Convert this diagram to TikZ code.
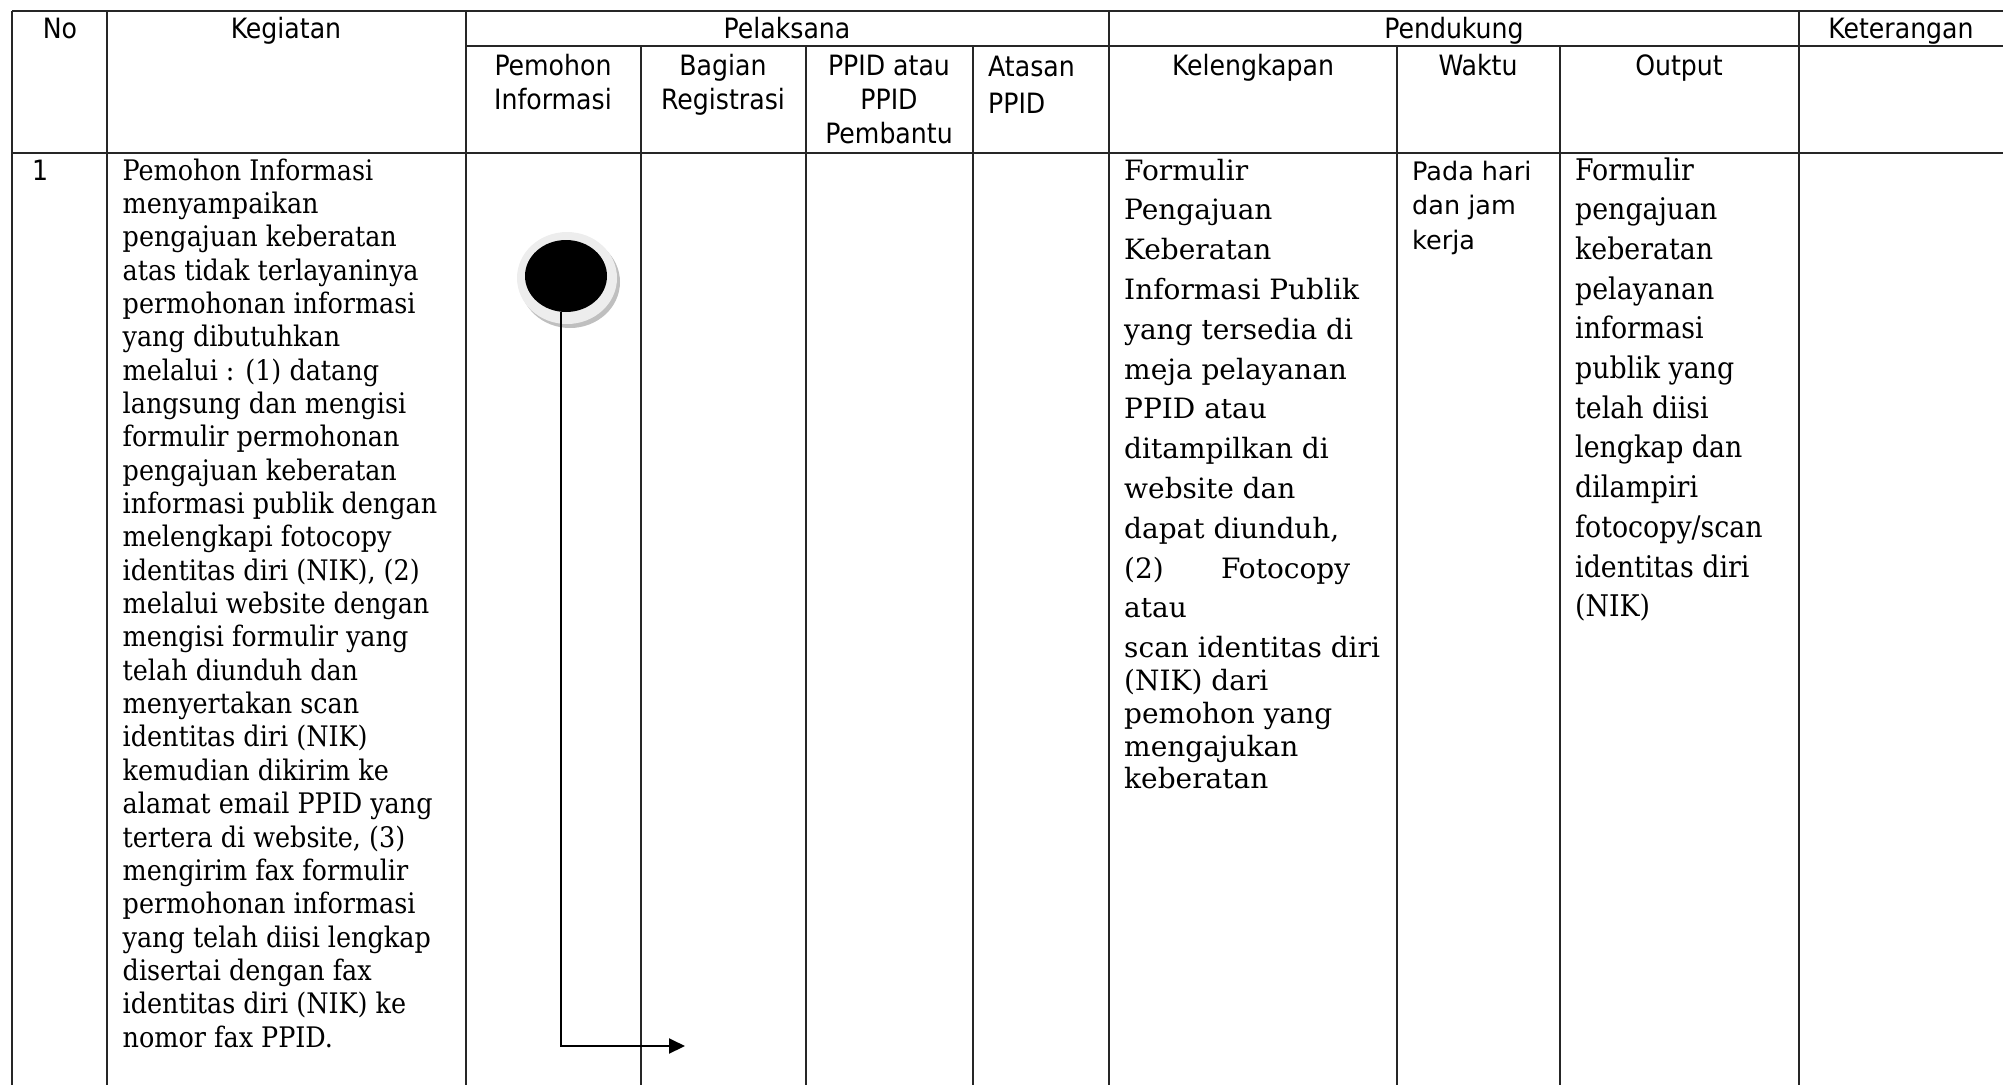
\documentclass[tikz,border=0pt]{standalone}
\usepackage{fontspec}
\setmainfont{DejaVu Serif}
\newfontfamily\hdrfont{DejaVu Sans Condensed}
\newfontfamily\wktfont{DejaVu Sans}
\newfontfamily\bodyfont{DejaVu Serif Condensed}
\newfontfamily\kelfont{DejaVu Serif}
\usetikzlibrary{arrows.meta,shapes.geometric}

\begin{document}
% Multi-line nodes are placed by the baseline of their last line.
\begin{tikzpicture}[x=1pt,y=-1pt,
  rule/.style={line width=1.8pt, draw=black!85},
  hdr/.style={font=\hdrfont\fontsize{28}{34}\selectfont, inner sep=0pt, anchor=base, align=center},
  hdrleft/.style={font=\hdrfont\fontsize{28}{37}\selectfont, inner sep=0pt, anchor=base west, align=left},
  keg/.style={font=\bodyfont\fontsize{28.3}{33.35}\selectfont, inner sep=0pt, anchor=base west, align=left},
  kel/.style={font=\kelfont\fontsize{28}{32.8}\selectfont, inner sep=0pt, anchor=base west, align=left},
  outp/.style={font=\bodyfont\fontsize{29.8}{39.7}\selectfont, inner sep=0pt, anchor=base west, align=left},
  wkt/.style={font=\wktfont\fontsize{25.5}{34.5}\selectfont, inner sep=0pt, anchor=base west, align=left},
  flow/.style={line width=2pt, draw=black, -{Triangle[length=16pt,width=15pt]}}
]
\useasboundingbox (0,0) rectangle (2003,1085);

% table rules
\draw[rule] (12,11) -- (2003,11);
\draw[rule] (466,46) -- (2003,46);
\draw[rule] (12,153) -- (2003,153);
\foreach \x in {12,107,466,1109,1799}
  \draw[rule] (\x,11) -- (\x,1085);
\foreach \x in {641,806,973,1397,1560}
  \draw[rule] (\x,46) -- (\x,1085);

% header, first level
\node[hdr] (hno)  at (60,38)   {No};
\node[hdr] (hkeg) at (286,38)  {Kegiatan};
\node[hdr] (hpel) at (787,38)  {Pelaksana};
\node[hdr] (hpen) at (1454,38) {Pendukung};
\node[hdr] (hket) at (1901,38) {Keterangan};

% header, second level
\node[hdr] (hpem) at (553,109)  {Pemohon\\Informasi};
\node[hdr] (hbag) at (723,109)  {Bagian\\Registrasi};
\node[hdr] (hppid) at (889,143) {PPID atau\\PPID\\Pembantu};
\node[hdrleft] (hata) at (988,113) {Atasan\\PPID};
\node[hdr] (hkel) at (1253,75) {Kelengkapan};
\node[hdr] (hwkt) at (1478,75) {Waktu};
\node[hdr] (hout) at (1679,75) {Output};

% row 1
\node[hdrleft] (no1) at (32,180) {1};

\node[keg] (keg1) at (122.5,1047.1) {Pemohon Informasi\\
menyampaikan\\
pengajuan keberatan\\
atas tidak terlayaninya\\
permohonan informasi\\
yang dibutuhkan\\
melalui : (1) datang\\
langsung dan mengisi\\
formulir permohonan\\
pengajuan keberatan\\
informasi publik dengan\\
melengkapi fotocopy\\
identitas diri (NIK), (2)\\
melalui website dengan\\
mengisi formulir yang\\
telah diunduh dan\\
menyertakan scan\\
identitas diri (NIK)\\
kemudian dikirim ke\\
alamat email PPID yang\\
tertera di website, (3)\\
mengirim fax formulir\\
permohonan informasi\\
yang telah diisi lengkap\\
disertai dengan fax\\
identitas diri (NIK) ke\\
nomor fax PPID.};

\node[kel] (kel1) at (1124,788.8) {Formulir\\[7pt]
Pengajuan\\[7pt]
Keberatan\\[7pt]
Informasi Publik\\[7pt]
yang tersedia di\\[7pt]
meja pelayanan\\[7pt]
PPID atau\\[7pt]
ditampilkan di\\[7pt]
website dan\\[7pt]
dapat diunduh,\\[7pt]
\makebox[226pt][l]{(2)\hfill Fotocopy}\\[7pt]
atau\\[7pt]
scan identitas diri\\
(NIK) dari\\
pemohon yang\\
mengajukan\\
keberatan};

\node[wkt] (wkt1) at (1412,249) {Pada hari\\dan jam\\kerja};

\node[outp] (out1) at (1575,616.7) {Formulir\\
pengajuan\\
keberatan\\
pelayanan\\
informasi\\
publik yang\\
telah diisi\\
lengkap dan\\
dilampiri\\
fotocopy/scan\\
identitas diri\\
(NIK)};

% start symbol with its soft ring and shadow
\fill[black!25] (570,282) ellipse [x radius=50, y radius=46];
\fill[black!7]  (567,278) ellipse [x radius=50, y radius=46];
\node[ellipse, fill=black, minimum width=82pt, minimum height=72pt, inner sep=0pt] (start) at (566,276) {};

% flow to the registration lane
\coordinate (toreg) at (685,1046);
\draw[flow] ([xshift=-5pt]start.south) |- (toreg);
\end{tikzpicture}
\end{document}
